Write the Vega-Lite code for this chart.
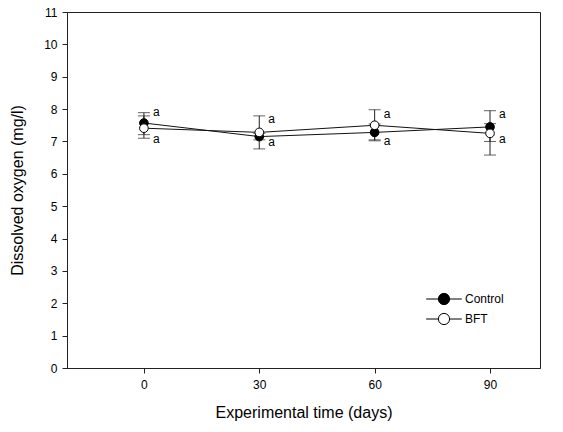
{
  "$schema": "https://vega.github.io/schema/vega-lite/v6.json",
  "width": 473,
  "height": 356,
  "autosize": {"type": "none"},
  "padding": {"left": 67, "top": 12, "right": 23, "bottom": 64},
  "background": "white",
  "config": {
    "font": "Liberation Sans",
    "view": {"stroke": "#222", "strokeWidth": 1},
    "axis": {"grid": false, "domainColor": "#222", "tickColor": "#222", "labelColor": "#000", "titleColor": "#000", "labelFont": "Liberation Sans", "titleFont": "Liberation Sans", "labelFontSize": 12, "titleFontSize": 16, "titleFontWeight": "normal", "tickSize": 5},
    "axisY": {"values": [0,1,2,3,4,5,6,7,8,9,10,11], "title": "Dissolved oxygen (mg/l)", "titlePadding": 18, "labelPadding": 5}
  },
  "data": {"values": [
    {"day": 0, "series": "Control", "mean": 7.57, "lo": 7.21, "hi": 7.89, "labelY": 7.92},
    {"day": 30, "series": "Control", "mean": 7.15, "lo": 7.05, "hi": 7.25, "labelY": 6.98},
    {"day": 60, "series": "Control", "mean": 7.28, "lo": 7.02, "hi": 7.54, "labelY": 7.0},
    {"day": 90, "series": "Control", "mean": 7.45, "lo": 7.0, "hi": 7.95, "labelY": 7.85},
    {"day": 0, "series": "BFT", "mean": 7.41, "lo": 7.1, "hi": 7.79, "labelY": 7.08},
    {"day": 30, "series": "BFT", "mean": 7.28, "lo": 6.77, "hi": 7.79, "labelY": 7.68},
    {"day": 60, "series": "BFT", "mean": 7.5, "lo": 7.05, "hi": 7.98, "labelY": 7.85},
    {"day": 90, "series": "BFT", "mean": 7.25, "lo": 6.58, "hi": 7.55, "labelY": 7.08}
  ]},
  "encoding": {
    "x": {"field": "day", "type": "quantitative", "scale": {"domain": [-20, 103], "nice": false, "zero": false}, "axis": {"values": [0, 30, 60, 90], "title": "Experimental time (days)", "titlePadding": 14, "labelPadding": 6}}
  },
  "layer": [
    {
      "mark": {"type": "rule", "color": "#222", "strokeWidth": 1},
      "encoding": {
        "y": {"field": "lo", "type": "quantitative", "scale": {"domain": [0, 11], "nice": false}, "title": "Dissolved oxygen (mg/l)"},
        "y2": {"field": "hi"}
      }
    },
    {
      "mark": {"type": "tick", "orient": "horizontal", "color": "#222", "size": 12, "thickness": 1},
      "encoding": {"y": {"field": "lo", "type": "quantitative", "title": "Dissolved oxygen (mg/l)"}}
    },
    {
      "mark": {"type": "tick", "orient": "horizontal", "color": "#222", "size": 12, "thickness": 1},
      "encoding": {"y": {"field": "hi", "type": "quantitative", "title": "Dissolved oxygen (mg/l)"}}
    },
    {
      "mark": {"type": "line", "color": "#111", "strokeWidth": 1},
      "encoding": {"y": {"field": "mean", "type": "quantitative", "title": "Dissolved oxygen (mg/l)"}, "detail": {"field": "series"}}
    },
    {
      "mark": {"type": "point", "shape": "circle", "filled": true, "stroke": "#000", "strokeWidth": 1, "size": 75, "opacity": 1},
      "encoding": {
        "y": {"field": "mean", "type": "quantitative", "title": "Dissolved oxygen (mg/l)"},
        "fill": {"field": "series", "type": "nominal", "scale": {"domain": ["Control", "BFT"], "range": ["#000000", "#ffffff"]},
          "legend": {"title": null, "orient": "none", "legendX": 367, "legendY": 277, "labelFontSize": 12, "labelColor": "#000", "symbolType": "M-1.9,0 L-0.6,0 M0.6,0 L1.9,0 M-0.6,0 A0.6,0.6 0 1,0 0.6,0 A0.6,0.6 0 1,0 -0.6,0 Z", "symbolSize": 352, "symbolStrokeColor": "#000", "symbolStrokeWidth": 1, "rowPadding": 2, "labelOffset": 11}}
      }
    },
    {
      "mark": {"type": "text", "align": "left", "baseline": "middle", "dx": 9, "fontSize": 12, "fill": "#000"},
      "encoding": {"y": {"field": "labelY", "type": "quantitative", "title": "Dissolved oxygen (mg/l)"}, "text": {"value": "a"}}
    }
  ]
}
